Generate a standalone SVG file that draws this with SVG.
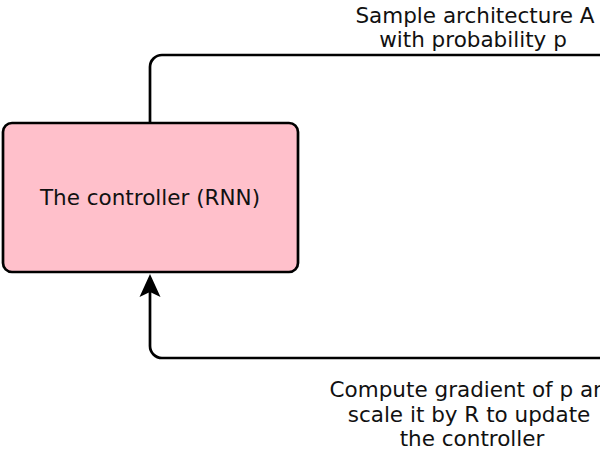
<svg xmlns="http://www.w3.org/2000/svg" width="600" height="455" viewBox="0 0 600 455">
<style>
.lbl{font-family:"DejaVu Sans",sans-serif;font-size:21.5px;fill:#111;text-anchor:middle}
.wire{fill:none;stroke:#000;stroke-width:2.7}
</style>
<defs>
<marker id="arr" markerUnits="userSpaceOnUse" viewBox="-24 -11 24 22" refX="-18" refY="0" markerWidth="24" markerHeight="22" orient="auto" overflow="visible">
<path d="M0,0 L-23,-10.5 L-18,0 L-23,10.5 Z" fill="#000"/>
</marker>
</defs>
<rect width="600" height="455" fill="#fff"/>
<g id="connectors">
<path class="wire" d="M150,123 V67 A12,12 0 0 1 162,55 H610"/>
<path class="wire" d="M610,358 H162 A12,12 0 0 1 150,346 V292" marker-end="url(#arr)"/>
</g>
<g id="label-sample">
<text class="lbl" x="475" y="23">Sample architecture A</text>
<text class="lbl" x="473" y="47">with probability p</text>
</g>
<g id="label-gradient">
<text class="lbl" x="475" y="397">Compute gradient of p and</text>
<text class="lbl" x="469" y="422">scale it by R to update</text>
<text class="lbl" x="472" y="446">the controller</text>
</g>
<g id="controller">
<rect x="3" y="123" width="295" height="149" rx="9" ry="9" fill="#ffc0cb" stroke="#000" stroke-width="2.7"/>
<text class="lbl" x="150" y="205">The controller (RNN)</text>
</g>
</svg>
